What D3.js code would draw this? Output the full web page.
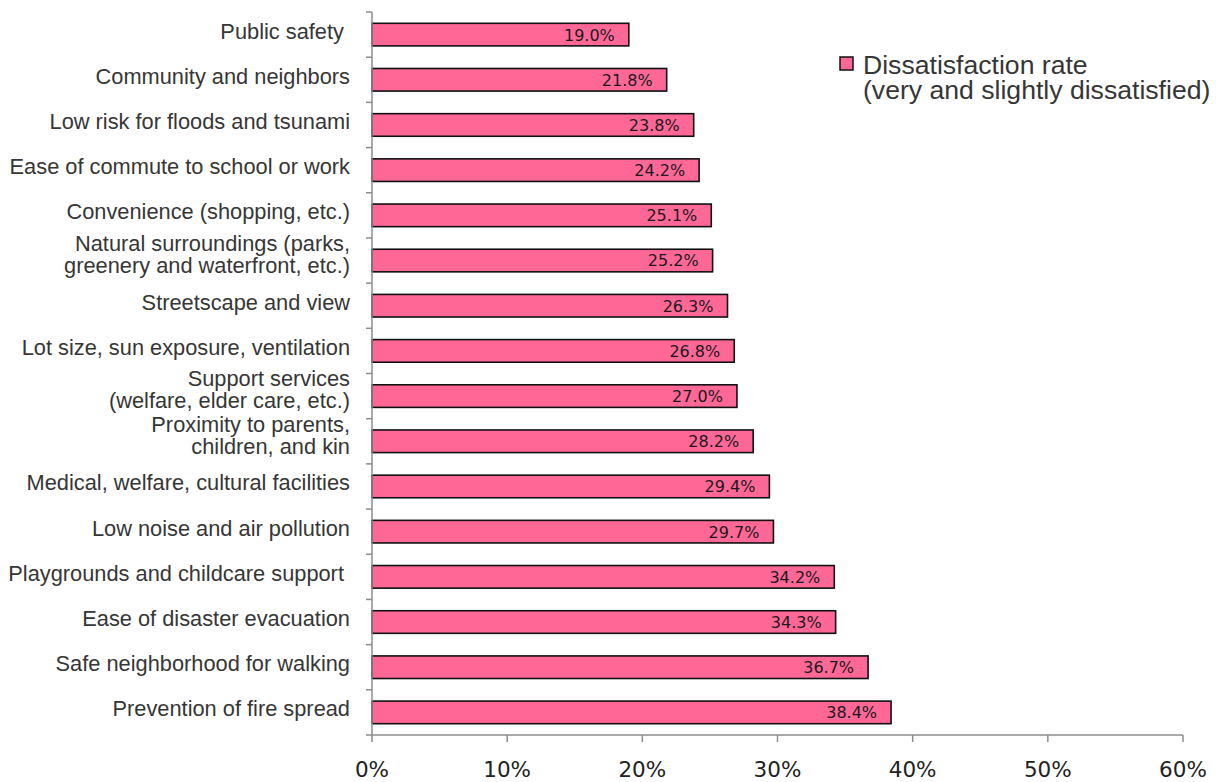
<!DOCTYPE html>
<html><head><meta charset="utf-8">
<script src="https://cdn.jsdelivr.net/npm/d3@7"></script>
<style>body{margin:0;background:#fff}svg{display:block}</style>
</head><body>
<svg id="c" width="1216" height="782"></svg>
<script>
const categories = [
  ["Public safety "],
  ["Community and neighbors"],
  ["Low risk for floods and tsunami"],
  ["Ease of commute to school or work"],
  ["Convenience (shopping, etc.)"],
  ["Natural surroundings (parks,", "greenery and waterfront, etc.)"],
  ["Streetscape and view"],
  ["Lot size, sun exposure, ventilation"],
  ["Support services", "(welfare, elder care, etc.)"],
  ["Proximity to parents,", "children, and kin"],
  ["Medical, welfare, cultural facilities"],
  ["Low noise and air pollution"],
  ["Playgrounds and childcare support "],
  ["Ease of disaster evacuation"],
  ["Safe neighborhood for walking"],
  ["Prevention of fire spread"]
];
const values = [19.0, 21.8, 23.8, 24.2, 25.1, 25.2, 26.3, 26.8, 27.0, 28.2, 29.4, 29.7, 34.2, 34.3, 36.7, 38.4];
const xTicks = [0, 10, 20, 30, 40, 50, 60];
const seriesName = ["Dissatisfaction rate", "(very and slightly dissatisfied)"];

(function () {
const svg = d3.select("#c");
const mL = 372, mR = 1183, mT = 12, mB = 735;
const x = d3.scaleLinear().domain([0, 60]).range([mL, mR]);
const y = d3.scaleBand().domain(d3.range(categories.length)).range([mT, mB]).paddingInner(0.5).paddingOuter(0.25);
const yb = d3.scaleBand().domain(d3.range(categories.length)).range([mT, mB]);
const axisColor = "#8c8c8c";

// bars
svg.append("g").selectAll("rect").data(values).join("rect")
  .attr("x", x(0)).attr("y", (d, i) => y(i))
  .attr("width", d => x(d) - x(0)).attr("height", y.bandwidth())
  .attr("fill", "#ff6797").attr("stroke", "#111").attr("stroke-width", 1.6);

// value labels
svg.append("g").selectAll("text").data(values).join("text")
  .attr("x", d => x(d) - 14).attr("y", (d, i) => y(i) + y.bandwidth() / 2)
  .attr("dy", "0.37em").attr("text-anchor", "end")
  .attr("font-family", "'DejaVu Sans', sans-serif").attr("font-size", 16)
  .attr("fill", "#1a1a1a").text(d => d.toFixed(1) + "%");

// y axis
const yAxis = svg.append("g");
yAxis.append("line").attr("x1", mL).attr("x2", mL).attr("y1", mT).attr("y2", mB)
  .attr("stroke", axisColor).attr("stroke-width", 1.5);
yAxis.selectAll("line.t").data(d3.range(categories.length + 1)).join("line").attr("class", "t")
  .attr("x1", mL - 6).attr("x2", mL)
  .attr("y1", i => i < categories.length ? yb(i) : mB)
  .attr("y2", i => i < categories.length ? yb(i) : mB)
  .attr("stroke", axisColor).attr("stroke-width", 1.5);

// category labels
const lab = svg.append("g").attr("font-family", "'Liberation Sans', Arial, sans-serif")
  .attr("font-size", 21.8).attr("fill", "#363636").attr("text-anchor", "end");
categories.forEach((lines, i) => {
  const cy = yb(i) + yb.bandwidth() / 2;
  const lh = 22;
  const t = lab.append("text").attr("x", 350).attr("y", cy).style("white-space", "pre");
  lines.forEach((ln, k) => {
    t.append("tspan").attr("x", 350)
      .attr("y", cy + (k - (lines.length - 1) / 2) * lh)
      .attr("dy", lines.length > 1 ? "0.06em" : "0.18em").text(ln);
  });
});

// x axis
const xAxis = svg.append("g");
xAxis.append("line").attr("x1", mL).attr("x2", mR).attr("y1", mB).attr("y2", mB)
  .attr("stroke", axisColor).attr("stroke-width", 1.5);
xAxis.selectAll("line.t").data(xTicks).join("line").attr("class", "t")
  .attr("x1", d => x(d)).attr("x2", d => x(d)).attr("y1", mB).attr("y2", mB + 7)
  .attr("stroke", axisColor).attr("stroke-width", 1.5);
xAxis.selectAll("text").data(xTicks).join("text")
  .attr("x", d => x(d)).attr("y", 777).attr("text-anchor", "middle")
  .attr("font-family", "'DejaVu Sans', sans-serif").attr("font-size", 21.5)
  .attr("fill", "#222").text(d => d + "%");

// legend
const lg = svg.append("g");
lg.append("rect").attr("x", 840).attr("y", 57).attr("width", 13).attr("height", 13)
  .attr("fill", "#ff6797").attr("stroke", "#111").attr("stroke-width", 1.5);
lg.selectAll("text").data(seriesName).join("text")
  .attr("x", 863).attr("y", (d, i) => 74 + i * 25)
  .attr("font-family", "'Liberation Sans', Arial, sans-serif").attr("font-size", 26.6)
  .attr("fill", "#363636").text(d => d);
})();
</script>
</body></html>
